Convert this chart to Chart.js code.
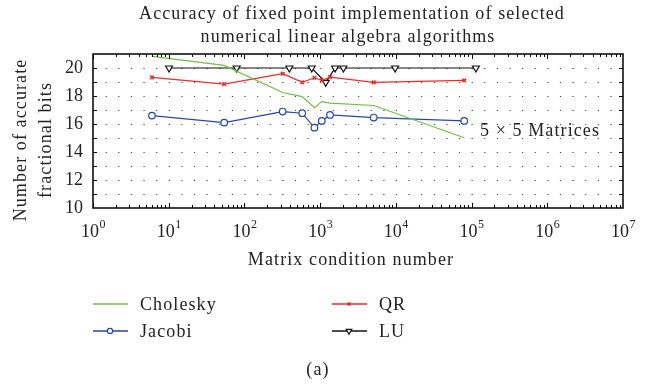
<!DOCTYPE html>
<html>
<head>
<meta charset="utf-8">
<script src="https://cdn.jsdelivr.net/npm/chart.js@4.4.1/dist/chart.umd.min.js"></script>
<style>
  html,body{margin:0;padding:0;background:#fff}
  #wrap{width:649px;height:385px}
</style>
</head>
<body>
<div id="wrap"><canvas id="c" width="649" height="385"></canvas></div>
<script>
// condition numbers of the test matrices (Cholesky, Jacobi, QR share them)
const condNumbers = [6, 54, 320, 580, 840, 1050, 1350, 5100, 80000];
const cholesky = [20.83, 20.19, 18.25, 17.96, 17.17, 17.6, 17.49, 17.32, 15.02];
const jacobi   = [16.6, 16.1, 16.89, 16.77, 15.74, 16.22, 16.65, 16.46, 16.22];
const qr       = [19.33, 18.85, 19.59, 18.97, 19.3, 19.11, 19.35, 18.97, 19.11];
// LU was run on its own set
const luCond = [10.1, 79, 392, 774, 1186, 1574, 2027, 9770, 114000];
const lu     = [20, 20, 20, 20, 18.97, 20, 20, 20, 20];

const xDecades = [0, 1, 2, 3, 4, 5, 6, 7];
const yTicks = [10, 12, 14, 16, 18, 20];

const SERIF = '"Liberation Serif", "DejaVu Serif", serif';
const pts = (xs, ys) => xs.map((x, i) => ({x, y: ys[i]}));

const datasets = [
  {label:'Cholesky', data: pts(condNumbers, cholesky), borderColor:'#6fbf45',
   pointRadius:0, pointStyle:false, borderWidth:1.2},
  {label:'Jacobi', data: pts(condNumbers, jacobi), borderColor:'#2747a6',
   pointStyle:'circle', pointRadius:3.3, pointBackgroundColor:'#fff', pointBorderWidth:1.2, borderWidth:1.2},
  {label:'QR', data: pts(condNumbers, qr), borderColor:'#ee2a2a',
   pointStyle:'crossRot', pointRadius:2.6, pointBorderWidth:1.5, borderWidth:1.2},
  {label:'LU', data: pts(luCond, lu), borderColor:'#111',
   pointStyle:'triangle', pointRotation:180, pointRadius:4, pointBackgroundColor:'#fff', pointBorderWidth:1.2, borderWidth:1.2}
];

const decor = {
  id:'decor',
  beforeDraw(chart){
    const {ctx} = chart;
    ctx.save();
    ctx.fillStyle = '#fff';
    ctx.fillRect(0, 0, chart.width, chart.height);
    ctx.restore();
  },
  beforeDatasetsDraw(chart){
    const {ctx, chartArea:a, scales:{x, y}} = chart;
    // dotted grid
    ctx.save();
    ctx.strokeStyle = '#444';
    ctx.lineWidth = 1;
    ctx.setLineDash([1.2, (a.right - a.left) / 42 - 1.2]);
    for (let v = 11; v < 21; v++) {
      const py = Math.round(y.getPixelForValue(v)) + 0.5;
      ctx.beginPath(); ctx.moveTo(a.left, py); ctx.lineTo(a.right, py); ctx.stroke();
    }
    ctx.restore();
  },
  afterDraw(chart){
    const {ctx, chartArea:a, scales:{x, y}} = chart;
    ctx.save();
    // frame
    ctx.strokeStyle = '#000';
    ctx.lineWidth = 1.5;
    ctx.strokeRect(a.left, a.top, a.right - a.left, a.bottom - a.top);

    // inward ticks
    ctx.lineWidth = 1;
    ctx.beginPath();
    for (let v = 11; v < 21; v++) {
      const py = Math.round(y.getPixelForValue(v)) + 0.5;
      ctx.moveTo(a.left, py); ctx.lineTo(a.left + 4, py);
      ctx.moveTo(a.right, py); ctx.lineTo(a.right - 4, py);
    }
    for (let k = 0; k < 7; k++) {
      for (let m = 1; m <= 9; m++) {
        const px = Math.round(x.getPixelForValue(m * Math.pow(10, k))) + 0.5;
        const len = m === 1 ? 5 : 3;
        ctx.moveTo(px, a.bottom); ctx.lineTo(px, a.bottom - len);
        ctx.moveTo(px, a.top); ctx.lineTo(px, a.top + len);
      }
    }
    ctx.stroke();

    ctx.fillStyle = '#222';
    ctx.textBaseline = 'alphabetic';
    // x tick labels 10^k
    xDecades.forEach(k => {
      const px = x.getPixelForValue(Math.pow(10, k));
      ctx.font = '18px ' + SERIF;
      const wb = ctx.measureText('10').width;
      ctx.font = '12px ' + SERIF;
      const we = ctx.measureText(String(k)).width;
      const left = px - (wb + we) / 2;
      ctx.font = '18px ' + SERIF;
      ctx.textAlign = 'left';
      ctx.fillText('10', left, 237);
      ctx.font = '12px ' + SERIF;
      ctx.fillText(String(k), left + wb + 0.5, 228);
    });

    ctx.letterSpacing = '1.1px';
    ctx.textAlign = 'center';
    ctx.font = '18px ' + SERIF;
    ctx.fillText('Matrix condition number', 351, 265);

    // title
    ctx.fillText('Accuracy of fixed point implementation of selected', 352, 19);
    ctx.fillText('numerical linear algebra algorithms', 348, 42);

    // y axis title
    ctx.save();
    ctx.translate(0, 140);
    ctx.rotate(-Math.PI / 2);
    ctx.textBaseline = 'middle';
    ctx.fillText('Number of accurate', 0, 21);
    ctx.fillText('fractional bits', 0, 46);
    ctx.restore();

    // annotation
    ctx.textAlign = 'left';
    ctx.textBaseline = 'middle';
    ctx.fillText('5 \u00d7 5 Matrices', 480, 131);

    // legend
    const slots = [
      {i:0, x:93, y:304}, {i:1, x:93, y:331},
      {i:2, x:332, y:304}, {i:3, x:332, y:331}
    ];
    slots.forEach(s => {
      const ds = chart.data.datasets[s.i];
      ctx.strokeStyle = ds.borderColor;
      ctx.lineWidth = 1.4;
      ctx.setLineDash([]);
      ctx.beginPath(); ctx.moveTo(s.x, s.y); ctx.lineTo(s.x + 35, s.y); ctx.stroke();
      if (ds.pointStyle) {
        ctx.fillStyle = ds.pointBackgroundColor || ds.borderColor;
        ctx.lineWidth = ds.pointBorderWidth;
        Chart.helpers.drawPoint(ctx, {pointStyle: ds.pointStyle, rotation: ds.pointRotation || 0,
          radius: ds.pointRadius * 0.8, borderWidth: ds.pointBorderWidth}, s.x + 17, s.y);
      }
      ctx.fillStyle = '#222';
      ctx.fillText(ds.label, s.x + 47, s.y + 1);
    });

    // caption
    ctx.textAlign = 'center';
    ctx.fillText('(a)', 318, 370);
    ctx.restore();
  }
};

new Chart(document.getElementById('c'), {
  type:'line',
  data:{datasets},
  options:{
    responsive:false,
    animation:false,
    layout:{padding:{left:0, top:54, right:26, bottom:0}},
    plugins:{legend:{display:false}, title:{display:false}, tooltip:{enabled:false}},
    elements:{line:{tension:0}},
    scales:{
      x:{type:'logarithmic', min:1, max:1e7,
         ticks:{display:false}, grid:{display:false, drawTicks:false}, border:{display:false},
         afterFit(s){ s.height = 177; }},
      y:{type:'linear', min:10, max:21,
         ticks:{stepSize:1, autoSkip:false, padding:10, color:'#222',
                font:{family:SERIF, size:18},
                callback:v => yTicks.includes(v) ? String(v) : ''},
         grid:{display:false, drawTicks:false}, border:{display:false},
         afterFit(s){ s.width = 93; }}
    }
  },
  plugins:[decor]
});
</script>
</body>
</html>
